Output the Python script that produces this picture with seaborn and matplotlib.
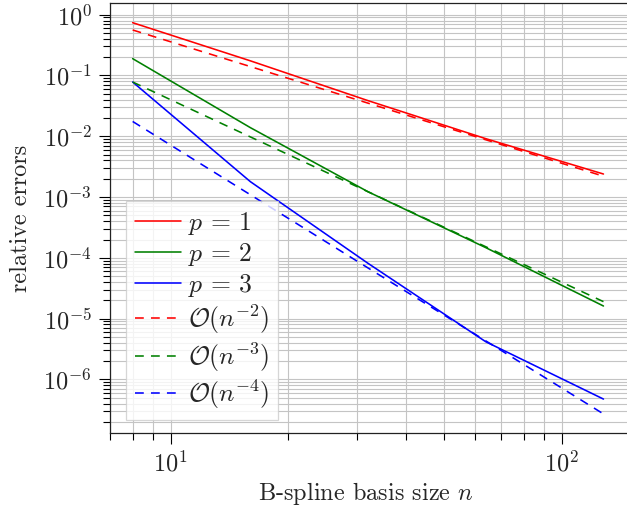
import numpy as np
import pandas as pd
import matplotlib
matplotlib.use("Agg")
import matplotlib.pyplot as plt
from matplotlib.ticker import LogLocator, NullFormatter
import seaborn as sns

# B-spline basis sizes
n_vals = [8, 16, 32, 64, 128]

# relative errors for spline degree p
err_p1 = [0.738, 0.174, 0.0385, 0.00912, 0.00239]
err_p2 = [0.189, 0.01385, 0.00122, 1.47e-4, 1.61e-5]
err_p3 = [0.078, 1.79e-3, 8.1e-5, 4.16e-6, 4.74e-7]

# reference convergence rates
ref_n2 = [0.56, 0.14, 0.035, 0.00875, 0.0022]
ref_n3 = [0.078, 0.00975, 0.00122, 1.52e-4, 1.9e-5]
ref_n4 = [0.0175, 1.09e-3, 6.8e-5, 4.3e-6, 2.7e-7]

labels_p = [r"$p\,=\,1$", r"$p\,=\,2$", r"$p\,=\,3$"]
labels_ref = [r"$\mathcal{O}(n^{-2})$", r"$\mathcal{O}(n^{-3})$", r"$\mathcal{O}(n^{-4})$"]
colors = ["#ff0000", "#008000", "#0000ff"]

sns.set_theme(style="white")
plt.rcParams["font.family"] = ["cmr10", "DejaVu Serif"]
plt.rcParams["mathtext.fontset"] = "cm"
plt.rcParams["axes.formatter.use_mathtext"] = True
plt.rcParams["axes.unicode_minus"] = False

FS = 17.5

fig = plt.figure(figsize=(6.27, 5.11), dpi=100)
ax = fig.add_axes([0.1754, 0.1526, 0.8475, 0.8410])

dash = (0, (5.5, 4.5))
for ys, lab, c in zip([err_p1, err_p2, err_p3], labels_p, colors):
    df = pd.DataFrame({"n": n_vals, "err": ys})
    sns.lineplot(data=df, x="n", y="err", ax=ax, color=c, lw=1.15,
                 label=lab, estimator=None, sort=False)
for ys, lab, c in zip([ref_n2, ref_n3, ref_n4], labels_ref, colors):
    df = pd.DataFrame({"n": n_vals, "err": ys})
    sns.lineplot(data=df, x="n", y="err", ax=ax, color=c, lw=1.15,
                 label=lab, estimator=None, sort=False, linestyle=dash)

ax.set_xscale("log")
ax.set_yscale("log")
ax.set_xlim(7, 160)
ax.set_ylim(1.31e-7, 1.54)

ax.xaxis.set_major_locator(LogLocator(base=10, numticks=20))
ax.xaxis.set_minor_locator(LogLocator(base=10, subs=np.arange(2, 10), numticks=20))
ax.xaxis.set_minor_formatter(NullFormatter())
ax.yaxis.set_major_locator(LogLocator(base=10, numticks=20))
ax.yaxis.set_minor_locator(LogLocator(base=10, subs=np.arange(2, 10), numticks=20))
ax.yaxis.set_minor_formatter(NullFormatter())

ax.grid(True, which="both", color="#c4c4c4", lw=0.8)
ax.set_axisbelow(True)

ax.tick_params(which="major", direction="out", length=8, width=0.8,
               color="black", labelsize=FS, pad=5, left=True, bottom=True)
ax.tick_params(which="minor", direction="out", length=5, width=0.8,
               color="black", left=True, bottom=True)

for side in ["left", "bottom", "top"]:
    ax.spines[side].set_color("#222222")
    ax.spines[side].set_linewidth(0.9)
ax.spines["right"].set_visible(False)

ax.set_xlabel(r"B-spline basis size $n$", fontsize=FS)
ax.set_ylabel("relative errors", fontsize=FS)
ax.xaxis.set_label_coords(0.482, -0.11)
ax.yaxis.set_label_coords(-0.146, 0.5)

leg = ax.legend(loc="lower left", bbox_to_anchor=(16 / 531.4, 13 / 429.8),
                borderaxespad=0, fontsize=18.5, frameon=True, fancybox=False,
                framealpha=0.8, edgecolor="#cccccc", handlelength=1.8,
                handletextpad=0.25, labelspacing=0.15, borderpad=0.35)
leg.get_frame().set_linewidth(0.9)

fig.savefig("out.png", dpi=100)
